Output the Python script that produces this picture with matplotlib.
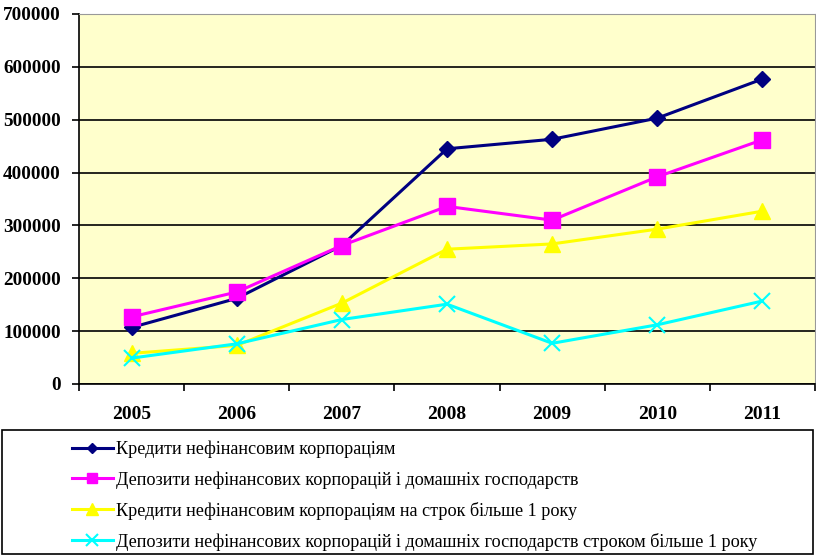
import matplotlib.pyplot as plt
from matplotlib.patches import Rectangle

years = ['2005', '2006', '2007', '2008', '2009', '2010', '2011']
credits = [107000, 162000, 262000, 445000, 463000, 503000, 577000]
deposits = [127000, 174000, 262000, 336000, 310000, 392000, 462000]
credits_long = [58000, 73000, 153000, 255000, 265000, 293000, 327000]
deposits_long = [49000, 76000, 122000, 151000, 77000, 112000, 157000]
labels = ['Кредити нефінансовим корпораціям',
          'Депозити нефінансових корпорацій і домашніх господарств',
          'Кредити нефінансовим корпораціям на строк більше 1 року',
          'Депозити нефінансових корпорацій і домашніх господарств строком більше 1 року']

plt.rcParams['font.family'] = ['Liberation Serif', 'DejaVu Serif']

fig = plt.figure(figsize=(8.16, 5.56), dpi=100)
ax = fig.add_axes([79/816, 172/556, 736/816, 370/556])
ax.set_facecolor('#FFFFCC')

x = range(len(years))
ax.plot(x, credits, color='#000080', lw=2.2, marker='D', ms=8, label=labels[0])
ax.plot(x, deposits, color='#FF00FF', lw=2.2, marker='s', ms=11, label=labels[1])
ax.plot(x, credits_long, color='#FFFF00', lw=2.2, marker='^', ms=12, label=labels[2])
ax.plot(x, deposits_long, color='#00FFFF', lw=2.2, marker='x', ms=12, mew=1.5, label=labels[3])

ax.set_xlim(-0.5, len(years) - 0.5)
ax.set_ylim(0, 700000)
ax.set_yticks(range(0, 700001, 100000))
ax.yaxis.grid(True, color='black', lw=1.2)
ax.set_axisbelow(True)

ax.set_xticks([i + 0.5 for i in range(-1, len(years))])
ax.set_xticklabels([])
ax.set_xticks(list(x), minor=True)
ax.set_xticklabels(years, minor=True, fontsize=14, fontweight='bold')
ax.tick_params(axis='x', which='minor', length=0, pad=16)
ax.tick_params(axis='x', which='major', length=5, width=1.2)
ax.tick_params(axis='y', length=5, width=1.2, labelsize=13.8, pad=8)
for t in ax.get_yticklabels():
    t.set_fontweight('bold')

ax.spines['left'].set_linewidth(1.2)
ax.spines['bottom'].set_linewidth(1.2)
ax.spines['top'].set_color('#999999')
ax.spines['right'].set_color('#999999')

fig.patches.append(Rectangle((2/816, 2/556), 811/816, 124/556, transform=fig.transFigure,
                             fill=False, edgecolor='black', lw=1.2))
fig.legend(loc='upper left', bbox_to_anchor=(57/816, 130/556), frameon=False,
           fontsize=13.05, handlelength=2.3, handletextpad=0.15, labelspacing=0.72,
           markerscale=0.7, borderpad=0.3)

fig.savefig('out.png', dpi=100)
